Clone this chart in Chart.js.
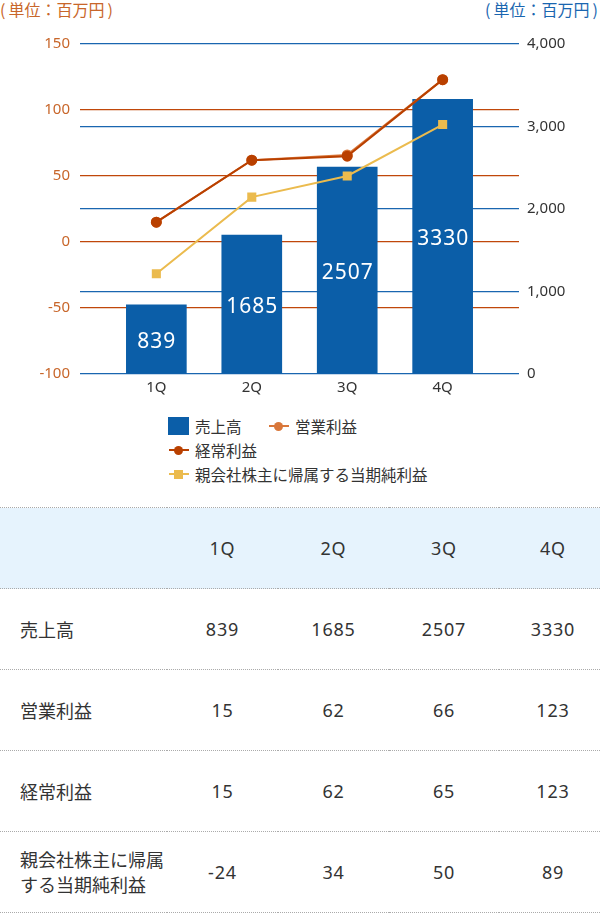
<!DOCTYPE html>
<html><head><meta charset="utf-8">
<script src="https://cdn.jsdelivr.net/npm/chart.js@4"></script>
<style>
html,body{margin:0;padding:0;background:#fff;}
body{width:600px;height:915px;position:relative;overflow:hidden;font-family:"Noto Sans","Noto Sans CJK JP",sans-serif;color:#333;}
.unit{position:absolute;top:0;font-size:16px;line-height:18px;white-space:nowrap;font-family:"Noto Sans CJK JP",sans-serif;}
.unit .po{margin-right:3px;} .unit .pc{margin-left:3px;}
#unitL{left:0;color:#c8662a;}
#unitR{left:485px;color:#1a66b0;}
#wrap{position:absolute;left:0;top:0;width:600px;height:400px;}
#legend{position:absolute;left:168px;top:416px;font-size:15.5px;font-family:"Noto Sans CJK JP",sans-serif;color:#333;}
.li{position:absolute;white-space:nowrap;line-height:20px;height:20px;}
.li span.t{position:absolute;left:27px;top:0;}
table{position:absolute;left:0;top:507px;border-collapse:collapse;width:600px;table-layout:fixed;font-size:18px;}
td{border-top:1px dotted #aaa;border-bottom:1px dotted #aaa;height:80px;padding:0;text-align:center;font-family:"Noto Sans","Noto Sans CJK JP",sans-serif;letter-spacing:0.8px;}
td.lab{text-align:left;padding-left:20px;line-height:25px;font-family:"Noto Sans CJK JP",sans-serif;letter-spacing:0;}
tr.head td{background:#e6f3fd;}
</style></head>
<body>
<div class="unit" id="unitL"><span class="po">(</span>単位：百万円<span class="pc">)</span></div>
<div class="unit" id="unitR"><span class="po">(</span>単位：百万円<span class="pc">)</span></div>
<div id="wrap"><canvas id="c"></canvas></div>
<div id="legend"></div>
<table id="tbl"></table>
<script>
const categories = ['1Q','2Q','3Q','4Q'];
const sales = [839, 1685, 2507, 3330];
const operatingProfit = [15, 62, 66, 123];
const ordinaryProfit = [15, 62, 65, 123];
const netProfit = [-24, 34, 50, 89];
const seriesNames = ['売上高','営業利益','経常利益','親会社株主に帰属する当期純利益'];

const BLUE = '#0b5ea8', GRID_BLUE = '#1a66b0', GRID_OR = '#c0470a';
const C_OP = '#d9773a', C_ORD = '#b94000', C_NET = '#ebbb4e';

const xy = arr => arr.map((v,i)=>({x:i+1,y:v}));

const barLabels = {
  id:'barLabels',
  afterDatasetsDraw(chart){
    const meta = chart.getDatasetMeta(0);
    const ctx = chart.ctx;
    ctx.save();
    ctx.fillStyle = '#fff';
    ctx.font = '21px "Noto Sans", sans-serif';
    try { ctx.letterSpacing = '1px'; } catch(e) {}
    ctx.textAlign = 'center';
    ctx.textBaseline = 'middle';
    meta.data.forEach((el,i)=>{
      const p = el.getProps(['x','y','base'], true);
      ctx.fillText(String(chart.data.datasets[0].data[i].y), p.x + 0.5, (p.y+p.base)/2 + 3);
    });
    ctx.restore();
  }
};

const tickFont = {size:15, family:'"Noto Sans", sans-serif'};

new Chart(document.getElementById('c'), {
  data:{
    datasets:[
      {type:'bar', label:seriesNames[0], data:xy(sales), yAxisID:'yR', backgroundColor:BLUE, barThickness:60, order:4},
      {type:'line', label:seriesNames[1], data:xy(operatingProfit), yAxisID:'yL', borderColor:C_OP, backgroundColor:C_OP, borderWidth:2, pointRadius:4.5, pointStyle:'circle', order:2},
      {type:'line', label:seriesNames[2], data:xy(ordinaryProfit), yAxisID:'yL', borderColor:C_ORD, backgroundColor:C_ORD, borderWidth:2, pointRadius:4.5, pointStyle:'circle', order:1},
      {type:'line', label:seriesNames[3], data:xy(netProfit), yAxisID:'yL', borderColor:C_NET, backgroundColor:C_NET, borderWidth:2, pointRadius:5, pointStyle:'rect', order:3}
    ]
  },
  options:{
    responsive:true, maintainAspectRatio:false, animation:false,
    layout:{padding:{top:44,left:0,right:0,bottom:0}},
    plugins:{legend:{display:false}, tooltip:{enabled:false}},
    scales:{
      x:{type:'linear', min:0.2, max:4.8, offset:false, position:'bottom',
        grid:{display:false, drawTicks:false, offset:false}, border:{display:false},
        afterBuildTicks(s){ s.ticks = categories.map((c,i)=>({value:i+1})); },
        afterFit(s){ s.height = 26; },
        ticks:{padding:5, color:'#333', font:tickFont, callback:v=>categories[v-1]}
      },
      yL:{type:'linear', position:'left', min:-100, max:150,
        afterFit(s){ s.width = 80; },
        grid:{drawTicks:false, lineWidth:1.2, color:c=> (c.tick && (c.tick.value===150||c.tick.value===-100)) ? 'rgba(0,0,0,0)' : GRID_OR},
        border:{display:false},
        ticks:{stepSize:50, padding:10, color:'#c8662a', font:tickFont}
      },
      yR:{type:'linear', position:'right', min:0, max:4000,
        afterFit(s){ s.width = 81; },
        grid:{drawTicks:false, lineWidth:1.2, color:GRID_BLUE},
        border:{display:false},
        ticks:{stepSize:1000, padding:8, color:'#333', font:tickFont,
          callback:v=>v.toLocaleString('en-US')}
      }
    }
  },
  plugins:[barLabels]
});

// legend
const lg = document.getElementById('legend');
const items = [
  {pos:[0,0], kind:'box', color:BLUE, text:seriesNames[0]},
  {pos:[100,0], kind:'circle', color:C_OP, text:seriesNames[1]},
  {pos:[0,24], kind:'circle', color:C_ORD, text:seriesNames[2]},
  {pos:[0,48], kind:'rect', color:C_NET, text:seriesNames[3]}
];
items.forEach(it=>{
  const d = document.createElement('div');
  d.className='li'; d.style.left=it.pos[0]+'px'; d.style.top=it.pos[1]+'px';
  let icon;
  if(it.kind==='box') icon = `<div style="position:absolute;left:0;top:1px;width:21px;height:18px;background:${it.color}"></div>`;
  else {
    const m = it.kind==='circle' ? `border-radius:50%;width:9px;height:9px;left:6px;top:6px;` : `width:9px;height:9px;left:6px;top:6px;`;
    icon = `<div style="position:absolute;left:1px;top:9px;width:20px;height:2px;background:${it.color}"></div><div style="position:absolute;${m}background:${it.color}"></div>`;
  }
  d.innerHTML = icon + `<span class="t">${it.text}</span>`;
  lg.appendChild(d);
});

// table
const tbl = document.getElementById('tbl');
const colW = [167,111,111,110,101];
let html = '<colgroup>' + colW.map(w=>`<col style="width:${w}px">`).join('') + '</colgroup>';
html += '<tr class="head"><td></td>' + categories.map((c,i)=>`<td${i===3?' style="padding-left:7px"':''}>${c}</td>`).join('') + '</tr>';
const rows = [sales, operatingProfit, ordinaryProfit, netProfit];
const labs = ['売上高','営業利益','経常利益','親会社株主に帰属<br>する当期純利益'];
rows.forEach((r,ri)=>{
  html += `<tr><td class="lab">${labs[ri]}</td>` + r.map((v,i)=>`<td${i===3?' style="padding-left:7px"':''}>${v}</td>`).join('') + '</tr>';
});
tbl.innerHTML = html;
</script>
</body></html>
